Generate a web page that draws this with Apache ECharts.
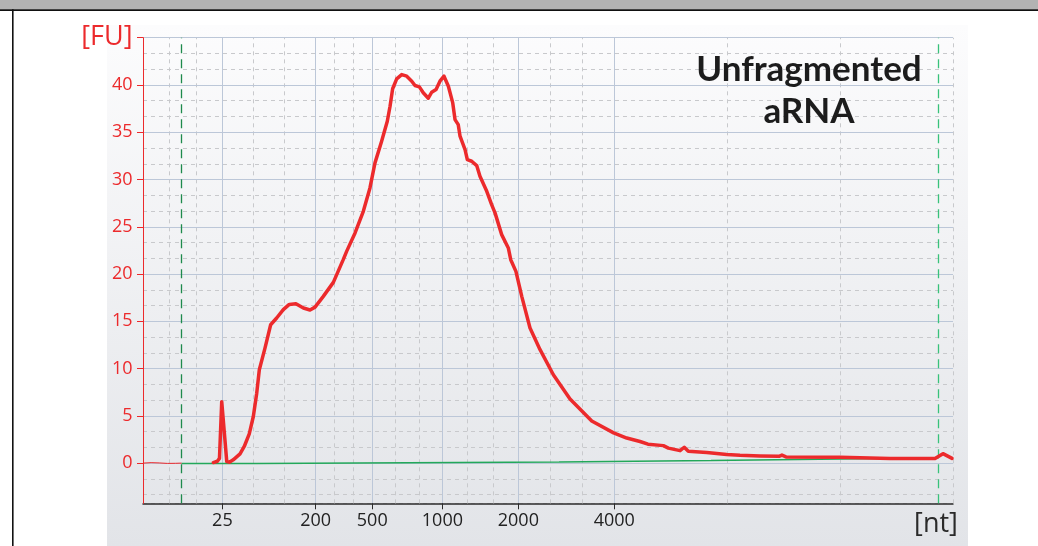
<!DOCTYPE html>
<html><head><meta charset="utf-8">
<script src="https://cdn.jsdelivr.net/npm/echarts@6/dist/echarts.min.js"></script>
<style>html,body{margin:0;padding:0;background:#fff}#c{width:1038px;height:546px}</style>
</head><body><div id="c"></div>
<script>
// ---- data (migration time in s -> fluorescence units) ----
const X_MIN = 19, X_MAX = 69;          // time axis range (s)
const Y_MIN = -4.25, Y_MAX = 45;       // FU axis range
const yTickValues = [0, 5, 10, 15, 20, 25, 30, 35, 40, 45];
const ladderSizes = [25, 200, 500, 1000, 2000, 4000];          // nt tick labels
const ladderTimes = [23.90, 29.66, 33.15, 37.48, 42.17, 48.09]; // their times
const markerTimes = [21.38, 68.09];                             // lower / upper marker

const preMarkerTime = [19.0, 19.5, 20.0, 20.5, 21.0, 21.38];
const preMarkerFU   = [0.0, 0.05, 0.02, -0.03, -0.02, 0.0];

const sampleTime = [23.34, 23.59, 23.72, 23.86, 24.17, 24.33, 24.57, 24.99, 25.25, 25.56,
  25.81, 26.02, 26.18, 26.53, 26.88, 27.25, 27.66, 28.03, 28.44, 28.90,
  29.31, 29.62, 30.13, 30.75, 31.36, 31.57, 32.09, 32.60, 33.01, 33.32,
  33.73, 34.08, 34.25, 34.41, 34.66, 34.97, 35.28, 35.59, 35.79, 36.06,
  36.30, 36.61, 36.82, 37.09, 37.33, 37.58, 37.85, 38.12, 38.26, 38.46,
  38.57, 38.88, 39.02, 39.29, 39.60, 39.80, 40.22, 40.52, 40.73, 41.14,
  41.55, 41.70, 42.02, 42.38, 42.89, 43.51, 44.33, 45.36, 46.70, 48.05,
  48.86, 49.68, 50.17, 51.12, 51.43, 52.15, 52.41, 52.66, 53.80, 55.03,
  55.85, 57.09, 58.26, 58.44, 58.69, 62.02, 65.11, 67.89, 68.38, 68.94];
const sampleFU = [0.06, 0.2, 0.5, 6.5, 0.17, 0.1, 0.35, 0.98, 1.76, 3.1,
  4.93, 7.4, 9.88, 12.17, 14.64, 15.35, 16.23, 16.79, 16.86, 16.41,
  16.2, 16.5, 17.64, 19.12, 21.52, 22.4, 24.35, 26.64, 29.11, 31.76,
  34.05, 36.16, 37.75, 39.6, 40.65, 41.1, 40.93, 40.4, 39.94, 39.8,
  39.17, 38.6, 39.23, 39.52, 40.4, 40.93, 39.87, 38.1, 36.34, 35.8,
  34.58, 33.17, 32.1, 31.93, 31.47, 30.34, 28.75, 27.35, 26.47, 24.17,
  22.76, 21.52, 20.28, 17.64, 14.29, 12.0, 9.35, 6.78, 4.45, 3.2,
  2.65, 2.29, 2.0, 1.85, 1.59, 1.32, 1.68, 1.25, 1.12, 0.92,
  0.82, 0.76, 0.72, 0.85, 0.66, 0.62, 0.5, 0.48, 1.0, 0.5];

const baselineTime = [21.38, 26.02, 35.36, 44.68, 54.06, 63.44, 68.09];
const baselineFU   = [-0.05, 0.04, 0.13, 0.28, 0.45, 0.55, 0.55];

const titleText = 'Unfragmented\naRNA';

// ---- build ----
const zip = (a, b) => a.map((v, i) => [v, b[i]]);
const bounds = [X_MIN].concat(ladderTimes, [X_MAX]);
const minorX = [];
for (let i = 0; i < bounds.length - 1; i++) {
  const a = bounds[i], b = bounds[i + 1];
  minorX.push(a + (b - a) / 3, a + 2 * (b - a) / 3);
}
minorX.push(X_MAX);

const RED = '#ec2a2c';
const GRID_MAJOR = '#bcc7d8';
const GRID_MINOR = '#c8c9cc';
const FONT = '"Open Sans", "DejaVu Sans", sans-serif';

const chart = echarts.init(document.getElementById('c'), null, {renderer: 'canvas'});
chart.setOption({
  animation: false,
  backgroundColor: '#ffffff',
  graphic: [
    {type: 'rect', z: -20, shape: {x: 107, y: 25, width: 861, height: 521},
      style: {fill: {type: 'linear', x: 0, y: 0, x2: 0, y2: 1,
        colorStops: [{offset: 0, color: '#fcfcfd'}, {offset: 1, color: '#e2e4e8'}]}}},
    {type: 'rect', z: -20, shape: {x: 0, y: 0, width: 1038, height: 9.5}, style: {fill: '#b3b3b3'}},
    {type: 'rect', z: -19, shape: {x: 0, y: 9.3, width: 1038, height: 1.6}, style: {fill: '#111'}},
    {type: 'rect', z: -19, shape: {x: 12, y: 9.3, width: 1.6, height: 537}, style: {fill: '#111'}},
    {type: 'text', z: 10, x: 809, y: 91,
      style: {text: titleText, textAlign: 'center', textVerticalAlign: 'middle',
        font: 'bold 35px Lato, "Open Sans", sans-serif', lineHeight: 42, fill: '#1c1c1c'}},
    {type: 'text', z: 10, x: 936, y: 524,
      style: {text: '[nt]', textAlign: 'center', textVerticalAlign: 'middle',
        font: '27px ' + FONT, fill: '#2a2a2a'}}
  ],
  grid: {left: 143, right: 85, top: 37.7, bottom: 42.7, containLabel: false, outerBoundsMode: 'none'},
  xAxis: {
    type: 'value', min: X_MIN, max: X_MAX,
    axisLine: {onZero: false, lineStyle: {color: '#2b2b2b', width: 1.5}},
    axisTick: {customValues: ladderTimes, length: 6, lineStyle: {color: '#2b2b2b', width: 1}},
    axisLabel: {customValues: ladderTimes, margin: 9, color: '#222', fontSize: 18, fontFamily: FONT,
      formatter: v => {
        let best = 0;
        ladderTimes.forEach((t, i) => { if (Math.abs(t - v) < Math.abs(ladderTimes[best] - v)) best = i; });
        return String(ladderSizes[best]);
      }},
    splitLine: {show: true, lineStyle: {color: GRID_MAJOR, width: 1}}
  },
  yAxis: [
    {
      type: 'value', min: Y_MIN, max: Y_MAX, splitNumber: 10, z: 2,
      axisLine: {show: true, onZero: false, lineStyle: {color: RED, width: 1}},
      axisTick: {show: true, customValues: yTickValues, length: 6, lineStyle: {color: RED, width: 1}},
      axisLabel: {customValues: yTickValues, margin: 10.5, color: RED, fontSize: 18, fontFamily: FONT,
        formatter: v => (Math.abs(v - Y_MAX) < 1e-6 ? '{fu|[FU]}' : String(Math.round(v))),
        rich: {fu: {fontSize: 27, fontFamily: FONT, color: RED}}},
      splitLine: {show: true, lineStyle: {color: GRID_MAJOR, width: 1}}
    },
    {
      // thirds of the FU scale -> dashed minor grid
      type: 'value', min: Y_MIN * 3, max: Y_MAX * 3, splitNumber: 30, z: 0,
      axisLine: {show: false}, axisTick: {show: false}, axisLabel: {show: false},
      splitLine: {show: true, lineStyle: {color: GRID_MINOR, width: 1, type: [4, 4]}}
    }
  ],
  series: [
    {
      name: 'grid', type: 'line', data: [], silent: true, z: 1,
      markLine: {silent: true, symbol: 'none', z: 1, label: {show: false}, animation: false,
        lineStyle: {color: GRID_MINOR, width: 1, type: [4, 4]},
        data: minorX.map(v => ({xAxis: v}))}
    },
    {
      name: 'baseline', type: 'line', step: 'end', data: zip(baselineTime, baselineFU),
      showSymbol: false, z: 2, lineStyle: {color: '#23a85a', width: 1.5},
      markLine: {silent: true, symbol: 'none', z: 2, label: {show: false}, animation: false,
        data: [
          {xAxis: markerTimes[0], lineStyle: {color: '#1e8a4c', width: 1.3, type: [9, 6]}},
          {xAxis: markerTimes[1], lineStyle: {color: '#38c27a', width: 1.3, type: [9, 6]}}
        ]}
    },
    {
      name: 'pre', type: 'line', data: zip(preMarkerTime, preMarkerFU),
      showSymbol: false, z: 3, lineStyle: {color: RED, width: 1}
    },
    {
      name: 'sample', type: 'line', data: zip(sampleTime, sampleFU),
      showSymbol: false, z: 4, lineStyle: {color: RED, width: 3.5, join: 'round', cap: 'round'}
    }
  ]
});
</script></body></html>
